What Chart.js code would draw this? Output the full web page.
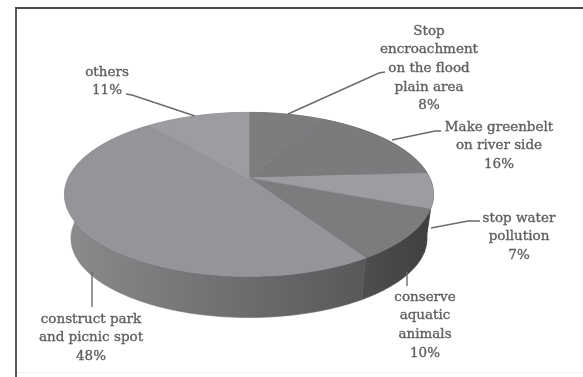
<!DOCTYPE html>
<html>
<head>
<meta charset="utf-8">
<title>Pie chart</title>
<script src="https://cdn.jsdelivr.net/npm/chart.js@4/dist/chart.umd.min.js"></script>
<style>
    html, body { margin: 0; padding: 0; background: #fff; }
    canvas { display: block; filter: blur(0.45px); }
</style>
</head>
<body>
<canvas id="pie-chart" width="583" height="377"></canvas>
<script>
const categories = [
    'Stop encroachment on the flood plain area',
    'Make greenbelt on river side',
    'stop water pollution',
    'conserve aquatic animals',
    'construct park and picnic spot',
    'others'
];
const shares = [8, 16, 7, 10, 48, 11];
const labelLines = [
    ['Stop', 'encroachment', 'on the flood', 'plain area', '8%'],
    ['Make greenbelt', 'on river side', '16%'],
    ['stop water', 'pollution', '7%'],
    ['conserve', 'aquatic', 'animals', '10%'],
    ['construct park', 'and picnic spot', '48%'],
    ['others', '11%']
];

// Slice colours
const topColors = ['#7c7d7f', '#7a7b7d', '#9c9da0', '#7b7c7e', '#949598', '#9c9da0'];
const sideColors = [
    ['#5a5b5d', '#5a5b5d'],
    ['#4a4a4c', '#4a4a4c'],
    ['#3c3c3e', '#3c3c3e'],
    ['#4f4f51', '#3f3f41'],
    ['#8a8b8d', '#57585a'],
    ['#77787a', '#77787a']
];
const textColor = '#5e5e60';
const lineColor = '#6a6b6d';

// Label placement: centre x, first line y
const labelSpots = [[429, 31], [499, 127], [519, 218], [425, 297], [91, 319], [107, 72]];
const lineHeight = 18.7;
const leaderLines = [
    [[385, 72], [379, 73], [288, 114]],
    [[441, 131], [435, 131], [392, 140]],
    [[480, 221], [468, 221], [431, 228]],
    [[407, 286], [407, 272]],
    [[92, 307], [92, 272]],
    [[126, 94], [132, 95], [195, 116]]
];

// Tilt of the pie: circle of the chart is projected to the sloped disc
const tilt = { stretchX: 1.0635, stretchY: 0.463, perspective: 0.2 };
const depth = { shiftY: 44, shrink: 0.965, centreShift: 16.4 };

function project(arc, angle) {
    const u = Math.cos(angle);
    const v = Math.sin(angle);
    const den = 1 - tilt.perspective * v;
    return {
        x: arc.x + arc.outerRadius * tilt.stretchX * u / den,
        y: arc.y + arc.outerRadius * tilt.stretchY * v / den
    };
}

function projectBase(arc, angle) {
    const p = project(arc, angle);
    const midY = arc.y + depth.centreShift;
    return {
        x: arc.x + (p.x - arc.x) * depth.shrink,
        y: midY + depth.shiftY + (p.y - midY) * depth.shrink
    };
}

function arcPoints(arc, fn) {
    const pts = [];
    const steps = Math.max(2, Math.ceil((arc.endAngle - arc.startAngle) * 40));
    for (let i = 0; i <= steps; i++) {
        pts.push(fn(arc, arc.startAngle + (arc.endAngle - arc.startAngle) * i / steps));
    }
    return pts;
}

function tracePoints(ctx, pts) {
    pts.forEach(p => ctx.lineTo(p.x, p.y));
}

const tiltedPie = {
    id: 'tiltedPie',
    beforeDatasetsDraw(chart) {
        const ctx = chart.ctx;
        const arcs = chart.getDatasetMeta(0).data;
        ctx.save();
        ctx.lineWidth = 0.6;
        ctx.lineJoin = 'round';

        // Rim first, the top face goes over it
        arcs.forEach((arc, i) => {
            const top = arcPoints(arc, project);
            const base = arcPoints(arc, projectBase);
            const xs = top.concat(base).map(p => p.x);
            const grad = ctx.createLinearGradient(Math.min(...xs), 0, Math.max(...xs), 0);
            grad.addColorStop(0, sideColors[i][0]);
            grad.addColorStop(1, sideColors[i][1]);
            ctx.beginPath();
            tracePoints(ctx, top);
            tracePoints(ctx, base.reverse());
            ctx.closePath();
            ctx.fillStyle = grad;
            ctx.strokeStyle = grad;
            ctx.fill();
            ctx.stroke();
        });

        arcs.forEach(arc => {
            ctx.beginPath();
            ctx.moveTo(arc.x, arc.y);
            tracePoints(ctx, arcPoints(arc, project));
            ctx.closePath();
            ctx.fillStyle = arc.options.backgroundColor;
            ctx.strokeStyle = arc.options.backgroundColor;
            ctx.fill();
            ctx.stroke();
        });
        ctx.restore();
        return false;
    },
    afterDraw(chart) {
        const ctx = chart.ctx;
        ctx.save();

        // Frame of the figure
        ctx.fillStyle = '#59595b';
        ctx.fillRect(15, 7, 2, 370);
        ctx.fillStyle = '#4a4a4c';
        ctx.fillRect(15, 7, 568, 2);
        ctx.fillStyle = '#f2f2f2';
        ctx.fillRect(17, 372, 566, 1);

        // Leader lines
        ctx.strokeStyle = lineColor;
        ctx.lineWidth = 1.4;
        leaderLines.forEach(line => {
            ctx.beginPath();
            line.forEach((p, i) => {
                if (i === 0) ctx.moveTo(p[0], p[1]);
                else ctx.lineTo(p[0], p[1]);
            });
            ctx.stroke();
        });

        // Labels
        ctx.fillStyle = textColor;
        ctx.strokeStyle = textColor;
        ctx.lineWidth = 0.35;
        ctx.font = '13.5px "DejaVu Serif"';
        ctx.textAlign = 'center';
        ctx.textBaseline = 'middle';
        labelLines.forEach((lines, i) => {
            lines.forEach((text, j) => {
                ctx.fillText(text, labelSpots[i][0], labelSpots[i][1] + j * lineHeight);
                ctx.strokeText(text, labelSpots[i][0], labelSpots[i][1] + j * lineHeight);
            });
        });
        ctx.restore();
    }
};

new Chart(document.getElementById('pie-chart'), {
    type: 'pie',
    data: {
        labels: categories,
        datasets: [{
            data: shares,
            backgroundColor: topColors,
            borderWidth: 0
        }]
    },
    options: {
        responsive: false,
        animation: false,
        layout: { padding: { left: 79, right: 164, top: 8, bottom: 29 } },
        plugins: {
            legend: { display: false },
            tooltip: { enabled: false }
        }
    },
    plugins: [tiltedPie]
});
</script>
</body>
</html>
